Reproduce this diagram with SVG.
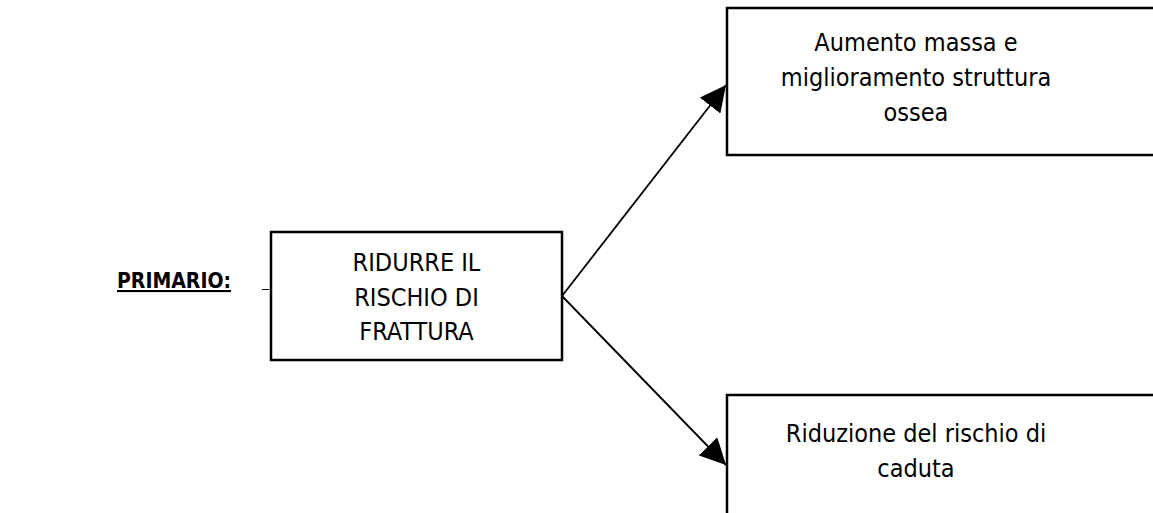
<svg xmlns="http://www.w3.org/2000/svg" width="1153" height="513" viewBox="0 0 1153 513">
<defs>
<style>
.box{fill:#fff;stroke:#000;stroke-width:2.5}
.t{font-family:"DejaVu Sans Condensed","DejaVu Sans","Liberation Sans",sans-serif;font-stretch:condensed;font-size:25px;fill:#000;text-anchor:middle}
.lbl{font-family:"DejaVu Sans Condensed","DejaVu Sans","Liberation Sans",sans-serif;font-stretch:condensed;font-size:21px;font-weight:bold;fill:#000}
.conn{stroke:#000;stroke-width:1.8;fill:none}
</style>
<marker id="ah" viewBox="0 0 26 26" refX="26" refY="13" markerWidth="26" markerHeight="26" markerUnits="userSpaceOnUse" orient="auto">
<path d="M0,0 L26,13 L0,26 Z" fill="#000"/>
</marker>
</defs>
<rect width="1153" height="513" fill="#fff"/>
<g id="label-primario">
<text class="lbl" x="117" y="288" text-decoration="underline">PRIMARIO:</text>
<line x1="262" y1="289.5" x2="269" y2="289.5" stroke="#000" stroke-width="1"/>
</g>
<g id="connectors">
<line class="conn" x1="562" y1="296" x2="726" y2="85" marker-end="url(#ah)"/>
<line class="conn" x1="562" y1="296" x2="726" y2="465" marker-end="url(#ah)"/>
</g>
<g id="node-center">
<rect class="box" x="271" y="232" width="291" height="128"/>
<text class="t" x="416.5" y="271">RIDURRE IL</text>
<text class="t" x="416.5" y="306">RISCHIO DI</text>
<text class="t" x="416.5" y="340">FRATTURA</text>
</g>
<g id="node-top">
<rect class="box" x="727" y="8" width="440" height="147"/>
<text class="t" x="916" y="51">Aumento massa e</text>
<text class="t" x="916" y="86">miglioramento struttura</text>
<text class="t" x="916" y="121">ossea</text>
</g>
<g id="node-bottom">
<rect class="box" x="727" y="395" width="440" height="140"/>
<text class="t" x="916" y="442">Riduzione del rischio di</text>
<text class="t" x="916" y="477">caduta</text>
</g>
</svg>
